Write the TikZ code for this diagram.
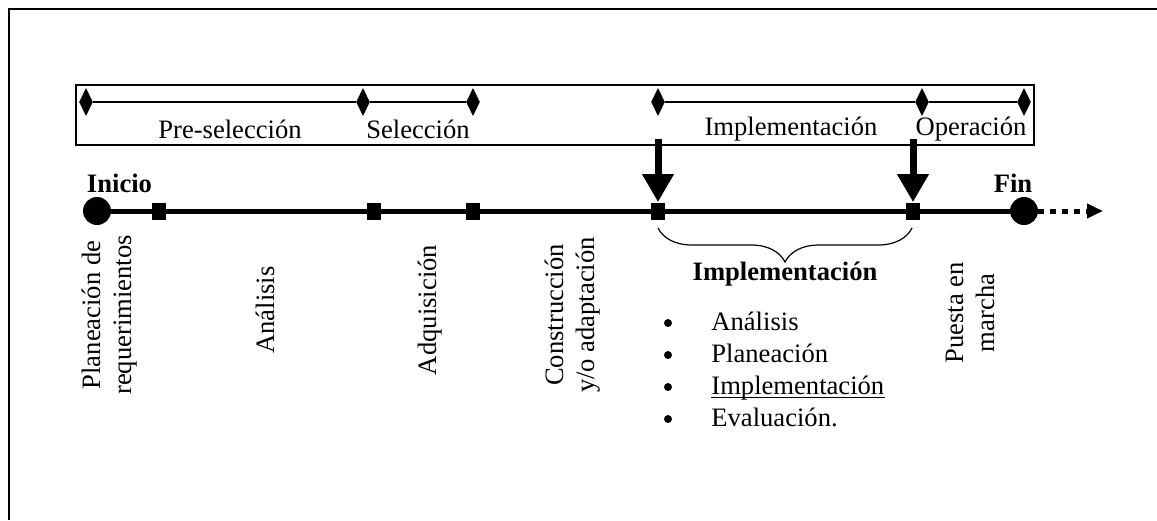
\documentclass[tikz,border=0pt]{standalone}
\usepackage{fontspec}
\setmainfont{Liberation Serif}
\usetikzlibrary{shapes.geometric,arrows.meta,decorations.pathreplacing}
\begin{document}
\begin{tikzpicture}[x=0.5pt,y=-0.5pt,
  every node/.style={font=\fontsize{13.3}{15.5}\selectfont},
  diam/.style={diamond,fill=black,inner sep=0pt,minimum width=7pt,minimum height=14pt},
  sq/.style={rectangle,fill=black,inner sep=0pt,minimum width=7pt,minimum height=8.5pt},
  endpt/.style={circle,fill=black,inner sep=0pt,minimum size=14pt},
  bul/.style={circle,fill=black,inner sep=0pt,minimum size=4pt},
  lbl/.style={inner sep=1pt},
  item/.style={inner sep=0pt,anchor=base west},
  rlbl/.style={rotate=90,align=center,inner sep=1pt},
  thinline/.style={line width=0.7pt},
  timeline/.style={line width=2.5pt},
  bigarrow/.style={line width=3.5pt,-{Triangle[length=14pt,width=15pt]}},
  dotarrow/.style={line width=2.5pt,dash pattern=on 3pt off 3pt,-{Triangle[length=8pt,width=7pt]}},
  bracestyle/.style={line width=0.6pt,decorate,decoration={brace,mirror,amplitude=17pt,aspect=0.5}}
]
\useasboundingbox (0,0) rectangle (1157,520);
% outer frame (only top and left visible)
\draw[line width=1.4pt] (9,520) -- (9,9) -- (1157,9);
% phase box
\draw[line width=0.8pt] (76,85) rectangle (1034,145);
% diamonds
\node[diam] (d1) at (86,102) {};
\node[diam] (d2) at (363,102) {};
\node[diam] (d3) at (473,102) {};
\node[diam] (d4) at (658,102) {};
\node[diam] (d5) at (922,102) {};
\node[diam] (d6) at (1024,102) {};
\draw[thinline] (d1) -- (d2) -- (d3);
\draw[thinline] (d4) -- (d5) -- (d6);
% phase labels
\node[lbl] (p1) at (230,129) {Pre-selección};
\node[lbl] (p2) at (418,129) {Selección};
\node[lbl] (p3) at (791,129) {Implementación};
\node[lbl] (p4) at (971,129) {Operación};
% timeline
\node[endpt] (ini) at (97,211) {};
\node[endpt] (fin) at (1024,211) {};
\node[sq] (s1) at (159,211) {};
\node[sq] (s2) at (374,211) {};
\node[sq] (s3) at (473,211) {};
\node[sq] (s4) at (658,211) {};
\node[sq] (s5) at (913,211) {};
\draw[timeline] (ini) -- (s1) -- (s2) -- (s3) -- (s4) -- (s5) -- (fin);
\coordinate (tip) at (1103,211);
\draw[dotarrow] (fin) -- (tip);
\node[lbl,font=\fontsize{13.3}{15.5}\selectfont\bfseries] (inicio) at (119.5,183) {Inicio};
\node[lbl,font=\fontsize{13.3}{15.5}\selectfont\bfseries] (finl) at (1013,183) {Fin};
% big arrows
\coordinate (a1) at (658,139);
\coordinate (a2) at (913,139);
\draw[bigarrow] (a1) -- (s4);
\draw[bigarrow] (a2) -- (s5);
% rotated activity labels
\node[rlbl] (r1) at (110,315) {Planeación de\\requerimientos};
\node[rlbl] (r2) at (265,310) {Análisis};
\node[rlbl] (r3) at (430,310) {Adquisición};
\node[rlbl] (r4) at (573,315) {Construcción\\y/o adaptación};
\node[rlbl] (r5) at (970,313) {Puesta en\\marcha};
% brace
\coordinate (b1) at (658,228);
\coordinate (b2) at (912,228);
\draw[bracestyle] (b1) -- (b2);
\node[lbl,font=\fontsize{13.3}{15.5}\selectfont\bfseries] (impl) at (785,274) {Implementación};
% list
\node[bul] (bu1) at (668,323) {};
\node[bul] (bu2) at (668,355) {};
\node[bul] (bu3) at (668,387) {};
\node[bul] (bu4) at (668,419) {};
\node[item] (l1) at (711,330) {Análisis};
\node[item] (l2) at (711,362) {Planeación};
\node[item] (l3) at (711,394) {Implementación};
\node[item] (l4) at (711,426) {Evaluación.};
\draw[line width=0.6pt] ([yshift=-1.6pt]l3.base west) -- ([yshift=-1.6pt]l3.base east);
\end{tikzpicture}
\end{document}
